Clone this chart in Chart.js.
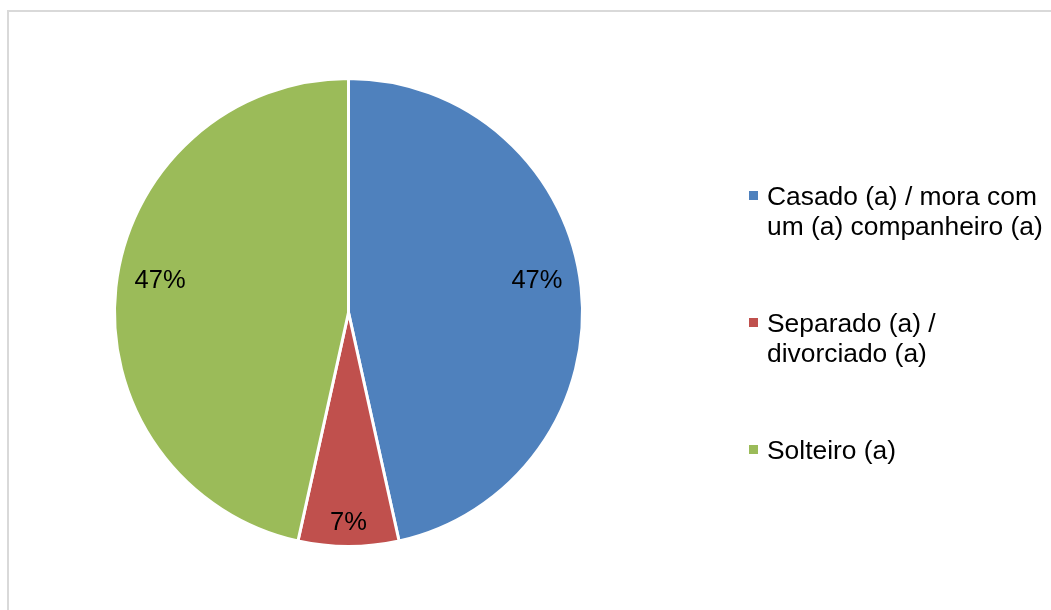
<!DOCTYPE html>
<html>
<head>
<meta charset="utf-8">
<script src="https://cdn.jsdelivr.net/npm/chart.js@4.4.0/dist/chart.umd.min.js"></script>
<style>
  html, body { margin: 0; padding: 0; background: #fff; overflow: hidden; }
  #wrap { position: relative; width: 1051px; height: 610px; }
  #frame {
    position: absolute; left: 7px; top: 10px; width: 1100px; height: 700px;
    border: 2px solid #d9d9d9; box-sizing: border-box;
  }
  #chart { position: absolute; left: 0; top: 0; }
</style>
</head>
<body>
<div id="wrap">
  <div id="frame"></div>
  <canvas id="chart" width="1051" height="610"></canvas>
</div>
<script>
const categories = [
  "Casado (a) / mora com um (a) companheiro (a)",
  "Separado (a) / divorciado (a)",
  "Solteiro (a)",
];
const shares = [47, 7, 47];
const sliceColors = ["#4F81BD", "#C0504D", "#9BBB59"];

const FONT = '"Liberation Sans", Arial, sans-serif';

// percentage text inside each slice
const sliceLabels = {
  id: "sliceLabels",
  afterDatasetsDraw(chart, args, opts) {
    const ctx = chart.ctx;
    const meta = chart.getDatasetMeta(0);
    const values = chart.data.datasets[0].data;
    ctx.save();
    ctx.font = opts.font;
    ctx.fillStyle = opts.color;
    ctx.textAlign = "center";
    ctx.textBaseline = "middle";
    meta.data.forEach((arc, i) => {
      const p = arc.getProps(["x", "y", "startAngle", "endAngle", "outerRadius"], true);
      const mid = (p.startAngle + p.endAngle) / 2;
      const place = opts.placement[i];
      const x = p.x + Math.cos(mid) * p.outerRadius * place.r;
      const y = p.y + Math.sin(mid) * p.outerRadius * place.r + place.dy;
      ctx.fillText(values[i] + "%", x, y);
    });
    ctx.restore();
  },
};

// legend on the right, with word-wrapped entries
const sideLegend = {
  id: "sideLegend",
  afterDraw(chart, args, opts) {
    const ctx = chart.ctx;
    const labels = chart.data.labels;
    const colors = chart.data.datasets[0].backgroundColor;
    ctx.save();
    ctx.font = opts.font;
    ctx.textAlign = "left";
    ctx.textBaseline = "alphabetic";
    labels.forEach((label, i) => {
      const base = opts.top + i * opts.itemGap;
      // wrap the label into lines
      const words = label.split(" ");
      const lines = [];
      let line = "";
      words.forEach((w) => {
        const test = line ? line + " " + w : w;
        if (line && ctx.measureText(test).width > opts.maxWidth) {
          lines.push(line);
          line = w;
        } else {
          line = test;
        }
      });
      if (line) lines.push(line);

      ctx.fillStyle = colors[i];
      ctx.fillRect(opts.boxX, base - 14, opts.boxSize, opts.boxSize);
      ctx.fillStyle = "#000";
      lines.forEach((l, k) => ctx.fillText(l, opts.textX, base + k * opts.lineHeight));
    });
    ctx.restore();
  },
};

new Chart(document.getElementById("chart"), {
  type: "pie",
  data: {
    labels: categories,
    datasets: [{
      data: shares,
      backgroundColor: sliceColors,
      borderColor: "#ffffff",
      borderWidth: 3,
      hoverOffset: 0,
    }],
  },
  options: {
    responsive: false,
    animation: false,
    events: [],
    layout: { padding: { left: 113, right: 467, top: 77, bottom: 62 } },
    plugins: {
      legend: { display: false },
      tooltip: { enabled: false },
      sliceLabels: {
        font: "25.5px " + FONT,
        color: "#000",
        placement: [
          { r: 0.81, dy: -11 },
          { r: 0.9, dy: 0 },
          { r: 0.81, dy: -11 },
        ],
      },
      sideLegend: {
        font: "26.4px " + FONT,
        top: 205,
        itemGap: 127,
        lineHeight: 30,
        boxX: 749,
        boxSize: 9,
        textX: 767,
        maxWidth: 284,
      },
    },
  },
  plugins: [sliceLabels, sideLegend],
});
</script>
</body>
</html>
